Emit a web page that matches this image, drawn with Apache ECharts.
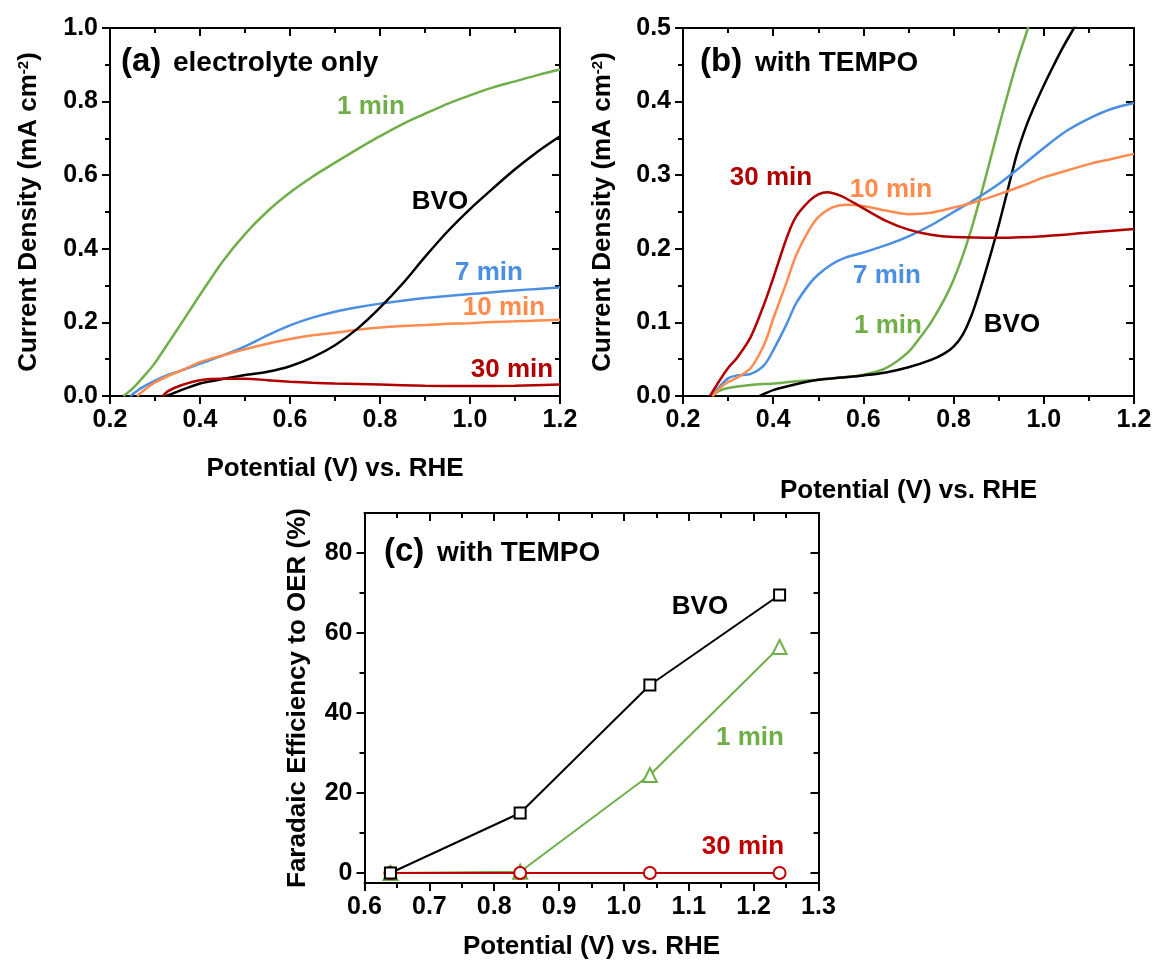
<!DOCTYPE html>
<html>
<head>
<meta charset="utf-8">
<script src="https://cdn.jsdelivr.net/npm/echarts@6/dist/echarts.min.js"></script>
<style>
  html, body { margin: 0; padding: 0; background: #fff; }
  #chart { width: 1156px; height: 962px; }
</style>
</head>
<body>
<div id="chart"></div>
<script>
// ---- panel (a): electrolyte only ----
const aGreenX = [0.23, 0.25, 0.28, 0.30, 0.33, 0.36, 0.40, 0.45, 0.50, 0.55, 0.60, 0.65, 0.70, 0.75, 0.80, 0.85, 0.90, 0.95, 1.00, 1.05, 1.10, 1.15, 1.20];
const aGreenY = [0, 0.02, 0.06, 0.09, 0.145, 0.2, 0.275, 0.365, 0.44, 0.502, 0.553, 0.596, 0.634, 0.671, 0.706, 0.739, 0.767, 0.794, 0.817, 0.838, 0.855, 0.872, 0.887];

const aBlueX = [0.245, 0.27, 0.30, 0.33, 0.36, 0.40, 0.45, 0.50, 0.55, 0.60, 0.65, 0.70, 0.75, 0.80, 0.85, 0.90, 0.95, 1.00, 1.05, 1.10, 1.15, 1.20];
const aBlueY = [0, 0.022, 0.042, 0.058, 0.07, 0.088, 0.11, 0.135, 0.165, 0.192, 0.213, 0.229, 0.241, 0.251, 0.259, 0.266, 0.272, 0.277, 0.282, 0.287, 0.291, 0.295];

const aOrangeX = [0.26, 0.28, 0.30, 0.33, 0.36, 0.40, 0.45, 0.50, 0.55, 0.60, 0.65, 0.70, 0.75, 0.80, 0.85, 0.90, 0.95, 1.00, 1.05, 1.10, 1.15, 1.20];
const aOrangeY = [0, 0.02, 0.037, 0.055, 0.07, 0.092, 0.11, 0.127, 0.142, 0.155, 0.165, 0.172, 0.18, 0.186, 0.19, 0.193, 0.196, 0.198, 0.201, 0.203, 0.205, 0.207];

const aBlackX = [0.325, 0.35, 0.40, 0.45, 0.50, 0.55, 0.60, 0.65, 0.70, 0.75, 0.80, 0.85, 0.90, 0.95, 1.00, 1.05, 1.10, 1.15, 1.20];
const aBlackY = [0, 0.012, 0.034, 0.046, 0.057, 0.066, 0.081, 0.105, 0.138, 0.183, 0.24, 0.305, 0.378, 0.447, 0.508, 0.563, 0.616, 0.664, 0.706];

const aRedX = [0.317, 0.33, 0.36, 0.40, 0.45, 0.50, 0.55, 0.60, 0.65, 0.70, 0.80, 0.90, 1.00, 1.10, 1.20];
const aRedY = [0, 0.014, 0.03, 0.043, 0.047, 0.047, 0.043, 0.039, 0.036, 0.034, 0.031, 0.028, 0.027, 0.028, 0.031];

// ---- panel (b): with TEMPO ----
const bRedX = [0.26, 0.28, 0.30, 0.32, 0.35, 0.38, 0.40, 0.43, 0.45, 0.48, 0.50, 0.52, 0.55, 0.58, 0.60, 0.65, 0.70, 0.75, 0.80, 0.90, 1.00, 1.10, 1.20];
const bRedY = [0, 0.02, 0.038, 0.052, 0.08, 0.125, 0.16, 0.215, 0.243, 0.265, 0.274, 0.277, 0.272, 0.262, 0.255, 0.238, 0.226, 0.219, 0.216, 0.215, 0.217, 0.222, 0.227];

const bOrangeX = [0.265, 0.29, 0.32, 0.35, 0.38, 0.40, 0.43, 0.45, 0.48, 0.50, 0.53, 0.56, 0.60, 0.65, 0.70, 0.75, 0.80, 0.85, 0.90, 0.95, 1.00, 1.05, 1.10, 1.15, 1.20];
const bOrangeY = [0, 0.015, 0.025, 0.038, 0.07, 0.105, 0.155, 0.19, 0.226, 0.243, 0.256, 0.26, 0.258, 0.252, 0.247, 0.249, 0.256, 0.264, 0.274, 0.285, 0.297, 0.306, 0.315, 0.322, 0.329];

const bBlueX = [0.265, 0.28, 0.30, 0.32, 0.35, 0.38, 0.40, 0.43, 0.45, 0.48, 0.50, 0.53, 0.56, 0.60, 0.65, 0.70, 0.75, 0.80, 0.85, 0.90, 0.95, 1.00, 1.05, 1.10, 1.15, 1.20];
const bBlueY = [0, 0.012, 0.024, 0.028, 0.03, 0.042, 0.062, 0.098, 0.125, 0.152, 0.165, 0.179, 0.188, 0.195, 0.205, 0.217, 0.232, 0.25, 0.268, 0.288, 0.312, 0.337, 0.36, 0.377, 0.39, 0.398];

const bGreenX = [0.265, 0.28, 0.30, 0.35, 0.40, 0.45, 0.50, 0.55, 0.60, 0.65, 0.70, 0.73, 0.75, 0.78, 0.80, 0.82, 0.84, 0.86, 0.88, 0.90, 0.92, 0.94, 0.965, 0.98];
const bGreenY = [0, 0.007, 0.011, 0.015, 0.017, 0.02, 0.022, 0.025, 0.029, 0.038, 0.06, 0.083, 0.1, 0.132, 0.158, 0.19, 0.228, 0.272, 0.318, 0.365, 0.41, 0.453, 0.5, 0.53];

const bBlackX = [0.37, 0.40, 0.45, 0.50, 0.55, 0.60, 0.65, 0.70, 0.75, 0.78, 0.80, 0.82, 0.84, 0.86, 0.88, 0.90, 0.92, 0.94, 0.96, 0.98, 1.00, 1.02, 1.04, 1.067, 1.08];
const bBlackY = [0, 0.008, 0.016, 0.022, 0.025, 0.028, 0.032, 0.039, 0.049, 0.058, 0.067, 0.083, 0.11, 0.147, 0.188, 0.232, 0.28, 0.328, 0.365, 0.395, 0.422, 0.447, 0.471, 0.5, 0.513];

// ---- panel (c): Faradaic efficiency ----
const cPotential = [0.64, 0.84, 1.04, 1.24];
const cBVO = [0, 15, 47, 69.5];
const c1min = [0, 0.3, 24.5, 56.5];
const c30min = [0, 0, 0, 0];
const cYTicks = [0, 20, 40, 60, 80];
const cYMinorTicks = [10, 30, 50, 70];

const GREEN = '#6fae48';
const BLUE = '#4a8fe2';
const ORANGE = '#ff8b4e';
const RED = '#b00000';
const FONT = '"Liberation Sans", Arial, sans-serif';

const zip = (xs, ys) => xs.map((x, i) => [x, ys[i]]);

const lineStyle = { color: '#000', width: 2 };
const axisLine = { show: true, onZero: false, lineStyle };
const labelStyle = { fontFamily: FONT, fontSize: 25, fontWeight: 'bold', color: '#000' };
const nameStyle = {
  fontFamily: FONT, fontSize: 26, fontWeight: 'bold', color: '#000',
  rich: { sup: { fontFamily: FONT, fontSize: 15, fontWeight: 'bold', color: '#000', verticalAlign: 'top' } }
};

// main axis with labels, ticks outward
function mainAxis(kind, gridIndex, min, max, interval, name, nameGap) {
  return {
    type: 'value', gridIndex, min, max, interval,
    position: kind === 'x' ? 'bottom' : 'left',
    name, nameLocation: 'middle', nameGap, nameTextStyle: nameStyle,
    axisLine,
    axisTick: { show: true, length: 8, lineStyle },
    minorTick: { show: true, splitNumber: 2, length: 5, lineStyle },
    splitLine: { show: false },
    minorSplitLine: { show: false },
    axisLabel: Object.assign({ margin: 12, showMinLabel: true, showMaxLabel: true, formatter: v => v.toFixed(1) }, labelStyle)
  };
}

// mirrored axis on the opposite side, ticks inward
function mirrorAxis(kind, gridIndex, min, max, interval) {
  return {
    type: 'value', gridIndex, min, max, interval,
    position: kind === 'x' ? 'top' : 'right',
    axisLine,
    axisTick: { show: true, inside: true, length: 8, lineStyle },
    minorTick: { show: true, splitNumber: 2, length: 5, lineStyle },
    splitLine: { show: false },
    minorSplitLine: { show: false },
    axisLabel: { show: false }
  };
}

// panel (c) y axes: min is -2.5, ticks given as custom values
function cYAxis(position, values, length, withLabel, inside) {
  const ax = {
    type: 'value', gridIndex: 2, min: -2.5, max: 90, position,
    axisLine: withLabel || position === 'right' ? axisLine : { show: false },
    axisTick: { show: true, inside, length, lineStyle, customValues: values },
    minorTick: { show: false },
    splitLine: { show: false },
    axisLabel: withLabel
      ? Object.assign({ margin: 12, customValues: values, formatter: v => String(v) }, labelStyle)
      : { show: false }
  };
  if (withLabel) {
    ax.name = 'Faradaic Efficiency to OER (%)';
    ax.nameLocation = 'middle';
    ax.nameGap = 54;
    ax.nameTextStyle = nameStyle;
  }
  return ax;
}

function curve(xi, yi, xs, ys, color) {
  return {
    type: 'line', xAxisIndex: xi, yAxisIndex: yi, data: zip(xs, ys),
    symbol: 'none', smooth: 0.3, clip: true,
    lineStyle: { color, width: 2.5 }
  };
}

function points(xs, ys, color, symbol, size) {
  return {
    type: 'line', xAxisIndex: 4, yAxisIndex: 4, data: zip(xs, ys),
    symbol, symbolSize: size, showSymbol: true,
    itemStyle: { color, borderColor: color, borderWidth: 2 },
    lineStyle: { color, width: 2 }
  };
}

function txt(x, y, text, color, size, align) {
  return {
    type: 'text', x, y, z: 100,
    style: { text, fill: color, font: 'bold ' + size + 'px ' + FONT, align: align || 'center', verticalAlign: 'middle' }
  };
}

const densityName = 'Current Density (mA cm{sup|-2})';
const potentialName = 'Potential (V) vs. RHE';

const option = {
  animation: false,
  backgroundColor: '#fff',
  grid: [
    { left: 110, top: 28, width: 450, height: 368 },
    { left: 683, top: 28, width: 451, height: 368 },
    { left: 364.5, top: 513, width: 454, height: 370 }
  ],
  xAxis: [
    mainAxis('x', 0, 0.2, 1.2, 0.2, potentialName, 60),
    mirrorAxis('x', 0, 0.2, 1.2, 0.2),
    mainAxis('x', 1, 0.2, 1.2, 0.2, potentialName, 82),
    mirrorAxis('x', 1, 0.2, 1.2, 0.2),
    mainAxis('x', 2, 0.6, 1.3, 0.1, potentialName, 51),
    mirrorAxis('x', 2, 0.6, 1.3, 0.1)
  ],
  yAxis: [
    mainAxis('y', 0, 0, 1.0, 0.2, densityName, 68),
    mirrorAxis('y', 0, 0, 1.0, 0.2),
    mainAxis('y', 1, 0, 0.5, 0.1, densityName, 67),
    mirrorAxis('y', 1, 0, 0.5, 0.1),
    cYAxis('left', cYTicks, 8, true, false),
    cYAxis('right', cYTicks, 8, false, true),
    cYAxis('left', cYMinorTicks, 5, false, false),
    cYAxis('right', cYMinorTicks, 5, false, true)
  ],
  series: [
    curve(0, 0, aGreenX, aGreenY, GREEN),
    curve(0, 0, aBlueX, aBlueY, BLUE),
    curve(0, 0, aOrangeX, aOrangeY, ORANGE),
    curve(0, 0, aBlackX, aBlackY, '#000'),
    curve(0, 0, aRedX, aRedY, RED),

    curve(2, 2, bGreenX, bGreenY, GREEN),
    curve(2, 2, bBlackX, bBlackY, '#000'),
    curve(2, 2, bBlueX, bBlueY, BLUE),
    curve(2, 2, bOrangeX, bOrangeY, ORANGE),
    curve(2, 2, bRedX, bRedY, RED),

    points(cPotential, c1min, GREEN, 'emptyTriangle', 14),
    points(cPotential, c30min, '#c00000', 'emptyCircle', 12),
    points(cPotential, cBVO, '#000', 'emptyRect', 11)
  ],
  graphic: [
    txt(121, 62, '(a)', '#000', 33, 'left'),
    txt(173, 63, 'electrolyte only', '#000', 28, 'left'),
    txt(371, 107, '1 min', GREEN, 26),
    txt(440, 202, 'BVO', '#000', 26),
    txt(489, 273, '7 min', BLUE, 26),
    txt(504, 308, '10 min', ORANGE, 26),
    txt(512, 370, '30 min', RED, 26),

    txt(700, 62, '(b)', '#000', 33, 'left'),
    txt(755, 63, 'with TEMPO', '#000', 28, 'left'),
    txt(771, 178, '30 min', RED, 26),
    txt(891, 190, '10 min', ORANGE, 26),
    txt(887, 276, '7 min', BLUE, 26),
    txt(888, 326, '1 min', GREEN, 26),
    txt(1012, 325, 'BVO', '#000', 26),

    txt(384, 552, '(c)', '#000', 33, 'left'),
    txt(437, 553, 'with TEMPO', '#000', 28, 'left'),
    txt(700, 607, 'BVO', '#000', 26),
    txt(750, 738, '1 min', GREEN, 26),
    txt(743, 847, '30 min', '#c00000', 26)
  ]
};

const chart = echarts.init(document.getElementById('chart'), null, { renderer: 'canvas' });
chart.setOption(option);
</script>
</body>
</html>
